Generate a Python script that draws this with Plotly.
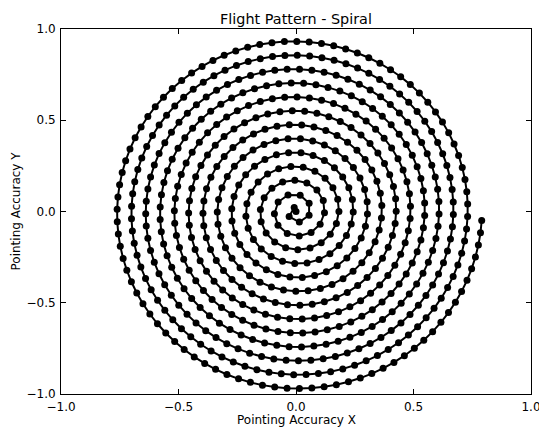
import numpy as np
import plotly.graph_objects as go

# Values
title = "Flight Pattern - Spiral"
x_label = "Pointing Accuracy X"
y_label = "Pointing Accuracy Y"
tick_vals = [-1.0, -0.5, 0.0, 0.5, 1.0]

# Spiral parameters (Archimedean spiral, constant-speed samples)
n_turns = 13            # number of revolutions
end_angle = -0.05       # final heading offset (rad)
step_x = 0.0609         # x growth per turn (data units)
step_y = 0.0761         # y growth per turn (data units)
center_x = 0.0
center_y = 0.0
sample_spacing_px = 12.4  # distance between flight points on screen

# plot-area pixel scales (for constant spacing on screen)
px_per_x = 235.0
px_per_y = 182.5

theta_end = 2 * np.pi * n_turns + end_angle
th = np.linspace(0, theta_end, 200000)
xs = center_x + step_x * th / (2 * np.pi) * np.cos(th)
ys = center_y + step_y * th / (2 * np.pi) * np.sin(th)
seg = np.hypot(np.diff(xs) * px_per_x, np.diff(ys) * px_per_y)
s = np.concatenate([[0], np.cumsum(seg)])
targets = s[-1] - np.arange(0, s[-1], sample_spacing_px)
targets = np.sort(np.append(targets, 0.0))
idx = np.searchsorted(s, targets).clip(0, len(s) - 1)
px = xs[idx]
py = ys[idx]

fig = go.Figure()
fig.add_trace(go.Scatter(
    x=px, y=py, mode="lines+markers",
    line=dict(color="black", width=2),
    marker=dict(color="black", size=7),
    showlegend=False,
))

font = dict(family="DejaVu Sans", color="black")

axis_common = dict(
    range=[-1, 1], tickvals=tick_vals, tickformat=".1f",
    ticks="inside", ticklen=5, tickcolor="black", tickwidth=1,
    showline=True, linecolor="black", linewidth=1, mirror="allticks",
    showgrid=False, zeroline=False, automargin=False,
    tickfont=dict(font, size=12), ticklabeloverflow="allow",
)

fig.update_layout(
    width=539, height=427,
    margin=dict(l=61, r=8, t=29, b=33),
    paper_bgcolor="white", plot_bgcolor="white",
    title=dict(text=title, x=0.5, xref="paper", xanchor="center",
               y=1 - 19 / 427, yanchor="middle",
               font=dict(font, size=14.4)),
    xaxis=dict(axis_common, ticklabelstandoff=2),
    yaxis=dict(axis_common, ticklabelstandoff=2),
    annotations=[
        dict(text=x_label, xref="paper", yref="paper", x=0.5, y=0,
             xanchor="center", yanchor="middle", yshift=-26,
             showarrow=False, font=dict(font, size=12)),
        dict(text=y_label, xref="paper", yref="paper", x=0, y=0.5,
             xanchor="center", yanchor="middle", xshift=-46, textangle=-90,
             showarrow=False, font=dict(font, size=12)),
    ],
)

fig.write_html("out.html")
